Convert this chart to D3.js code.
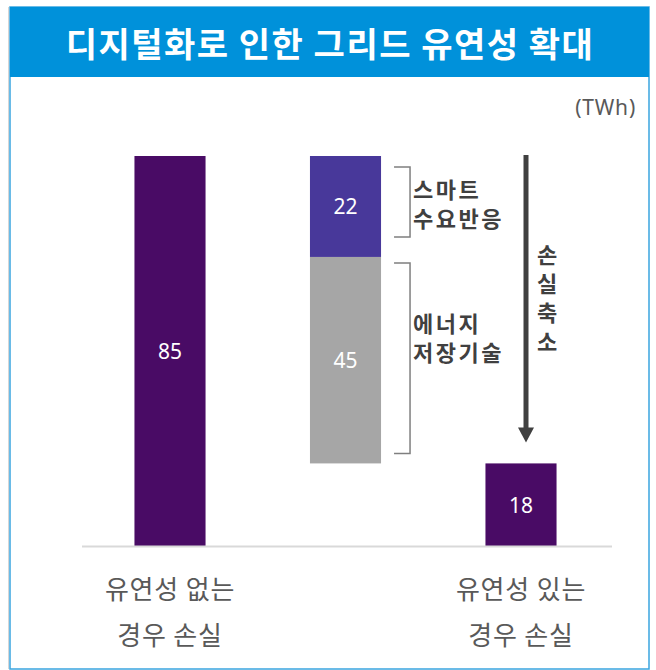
<!DOCTYPE html>
<html><head><meta charset="utf-8">
<script src="https://cdn.jsdelivr.net/npm/d3@7/dist/d3.min.js"></script>
<style>html,body{margin:0;padding:0;background:#fff;}svg{display:block;}</style>
</head><body>
<script>
const title = "디지털화로 인한 그리드 유연성 확대";
const unitLabel = "(TWh)";
const categories = ["without", "bridge", "with"];
const categoryLabels = [["유연성 없는", "경우 손실"], null, ["유연성 있는", "경우 손실"]];
const lossWithout = 85;
const smartDR = 22;
const storage = 45;
const lossWith = 18;
const segmentNames = [["스마트", "수요반응"], ["에너지", "저장기술"]];
const arrowLabel = ["손", "실", "축", "소"];

const W = 656, H = 670;
const KR = "'Noto Sans CJK KR','Noto Sans',sans-serif";
const NUM = "'Noto Sans','Open Sans',sans-serif";
const svg = d3.select("body").append("svg").attr("width", W).attr("height", H);

// frame & title
svg.append("rect").attr("x", 10).attr("y", 7).attr("width", 639).attr("height", 662)
  .attr("fill", "#fff").attr("stroke", "#3aa5df").attr("stroke-width", 1.5);
svg.append("line").attr("x1", 8.5).attr("x2", 8.5).attr("y1", 7).attr("y2", 669).attr("stroke", "#d6d6d6");
svg.append("rect").attr("x", 10).attr("y", 7).attr("width", 639).attr("height", 70).attr("fill", "#0091da");
svg.append("text").attr("x", 330).attr("y", 42).attr("text-anchor", "middle").attr("dominant-baseline", "central")
  .attr("fill", "#fff").attr("font-family", KR).attr("font-weight", 700).attr("font-size", 34)
  .attr("letter-spacing", 1.5).text(title);
svg.append("text").attr("x", 636).attr("y", 107).attr("text-anchor", "end").attr("dominant-baseline", "central")
  .attr("fill", "#595959").attr("font-family", NUM).attr("font-size", 21).attr("letter-spacing", 0.8).text(unitLabel);

const x = d3.scaleBand().domain(categories).range([82.25, 608.75]).paddingInner(0.595).paddingOuter(0.2975);
const y = d3.scaleLinear().domain([0, lossWithout]).range([546, 156]);

const bars = [
  {cat: "without", y0: 0, y1: lossWithout, v: lossWithout, color: "#490b65", text: "#fff"},
  {cat: "bridge", y0: lossWith, y1: lossWith + storage, v: storage, color: "#a6a6a6", text: "#fff"},
  {cat: "bridge", y0: lossWith + storage, y1: lossWith + storage + smartDR, v: smartDR, color: "#48389a", text: "#fff"},
  {cat: "with", y0: 0, y1: lossWith, v: lossWith, color: "#490b65", text: "#fff"}
];

svg.selectAll("rect.bar").data(bars).join("rect").attr("class", "bar")
  .attr("x", d => x(d.cat)).attr("width", x.bandwidth())
  .attr("y", d => y(d.y1)).attr("height", d => y(d.y0) - y(d.y1))
  .attr("fill", d => d.color);
svg.selectAll("text.val").data(bars).join("text").attr("class", "val")
  .attr("x", d => x(d.cat) + x.bandwidth() / 2).attr("y", d => (y(d.y0) + y(d.y1)) / 2)
  .attr("text-anchor", "middle").attr("dominant-baseline", "central")
  .attr("fill", d => d.text).attr("font-family", NUM).attr("font-size", 21).text(d => d.v);

// baseline axis
const axis = svg.append("g").attr("transform", `translate(0,${y(0)})`)
  .call(d3.axisBottom(x).tickSize(0).tickFormat(""));
axis.select(".domain").attr("d", "M82,0.5H612").attr("stroke", "#d9d9d9").attr("stroke-width", 2);

categories.forEach((c, i) => {
  const lab = categoryLabels[i];
  if (!lab) return;
  lab.forEach((t, j) => {
    svg.append("text").attr("x", x(c) + x.bandwidth() / 2).attr("y", 587 + j * 46)
      .attr("text-anchor", "middle").attr("dominant-baseline", "central")
      .attr("fill", "#595959").attr("font-family", KR).attr("font-size", 26).attr("letter-spacing", 0.8).text(t);
  });
});

// brackets
const bx = x("bridge") + x.bandwidth();
const brackets = [
  {top: y(lossWith + storage + smartDR) + 11, bot: y(lossWith + storage) - 20, textTop: 21, names: segmentNames[0]},
  {top: y(lossWith + storage) + 6, bot: y(lossWith) - 10, textTop: 59, names: segmentNames[1]}
];
brackets.forEach(b => {
  svg.append("path").attr("d", `M${bx + 13},${b.top}H${bx + 29}V${b.bot}H${bx + 13}`)
    .attr("fill", "none").attr("stroke", "#7f7f7f").attr("stroke-width", 1.5);
  b.names.forEach((t, j) => {
    svg.append("text").attr("x", bx + 32).attr("y", b.top + b.textTop + j * 29)
      .attr("dominant-baseline", "central").attr("fill", "#404040")
      .attr("font-family", KR).attr("font-weight", 700).attr("font-size", 22).attr("letter-spacing", 2.5).text(t);
  });
});

// arrow
const ax = x("with") + x.bandwidth() / 2 + 5;
const aTop = y(lossWithout) - 1, aTip = y(lossWith) - 21;
svg.append("line").attr("x1", ax).attr("x2", ax).attr("y1", aTop).attr("y2", aTip - 12)
  .attr("stroke", "#404040").attr("stroke-width", 5);
svg.append("path").attr("d", `M${ax - 8},${aTip - 15}L${ax + 8},${aTip - 15}L${ax},${aTip}Z`).attr("fill", "#404040");
arrowLabel.forEach((t, j) => {
  svg.append("text").attr("x", ax + 21).attr("y", 253 + j * 29)
    .attr("text-anchor", "middle").attr("dominant-baseline", "central").attr("fill", "#404040")
    .attr("font-family", KR).attr("font-weight", 700).attr("font-size", 22).text(t);
});
</script>
</body></html>
